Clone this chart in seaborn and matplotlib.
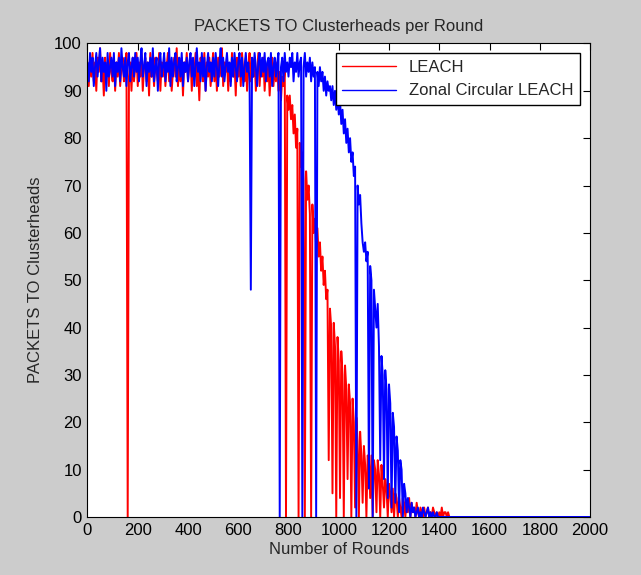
import numpy as np
import pandas as pd
import matplotlib
matplotlib.use("Agg")
import matplotlib.pyplot as plt
import seaborn as sns

# rounds sampled every 5 up to 1450, then the flat tail to 2000
rounds = list(range(0, 1455, 5)) + [2000]

# one row = 100 rounds
leach = [
    95, 91, 97, 93, 98, 92, 96, 90, 97, 94, 99, 92, 95, 89, 97, 93, 96, 91, 98, 94,
    92, 97, 90, 96, 93, 98, 91, 95, 97, 92, 94, 98, 0, 93, 96, 90, 97, 92, 95, 98,
    91, 96, 93, 98, 90, 95, 97, 92, 96, 89, 98, 93, 95, 91, 97, 94, 92, 98, 90, 96,
    93, 97, 91, 95, 98, 92, 96, 90, 94, 97, 93, 99, 91, 95, 92, 97, 89, 96, 94, 98,
    92, 95, 97, 90, 96, 93, 98, 91, 95, 88, 97, 94, 92, 98, 90, 96, 93, 97, 91, 95,
    98, 92, 96, 90, 97, 93, 95, 99, 91, 96, 94, 97, 90, 95, 92, 98, 93, 96, 89, 97,
    93, 96, 91, 98, 94, 92, 97, 90, 95, 98, 92, 96, 93, 97, 90, 94, 98, 91, 96, 93,
    97, 90, 95, 92, 96, 89, 94, 97, 91, 95, 92, 96, 90, 94, 88, 93, 91, 95, 0, 89,
    86, 89, 84, 87, 81, 85, 78, 82, 0, 79, 74, 77, 71, 0, 73, 67, 70, 64, 0, 66,
    60, 63, 57, 61, 55, 58, 52, 55, 49, 52, 46, 48, 12, 44, 40, 5, 41, 36, 0, 38,
    33, 4, 35, 30, 0, 32, 27, 8, 28, 24, 0, 25, 20, 2, 21, 16, 0, 18, 13, 3,
    15, 11, 0, 13, 12, 4, 13, 0, 12, 10, 1, 12, 9, 0, 11, 7, 2, 8, 6, 0,
    7, 5, 1, 6, 0, 5, 4, 0, 4, 2, 0, 4, 3, 0, 3, 1, 4, 0, 3, 1,
    2, 0, 3, 1, 0, 2, 1, 0, 2, 0, 1, 2, 0, 1, 0, 2, 1, 0, 1, 0,
    1, 0, 2, 0, 1, 1, 0, 1, 0, 0, 0,
    0,
]

zonal = [
    96, 92, 98, 94, 97, 91, 95, 98, 93, 96, 99, 92, 97, 94, 96, 90, 98, 93, 95, 97,
    93, 98, 91, 96, 94, 97, 92, 99, 95, 93, 97, 91, 96, 98, 92, 95, 97, 93, 98, 94,
    97, 92, 96, 99, 93, 95, 98, 91, 96, 94, 97, 93, 99, 92, 95, 97, 90, 96, 98, 93,
    95, 98, 92, 96, 94, 99, 91, 97, 93, 96, 98, 92, 95, 97, 93, 98, 91, 96, 94, 97,
    92, 96, 98, 93, 97, 91, 95, 99, 94, 96, 92, 98, 93, 97, 90, 95, 98, 94, 96, 92,
    97, 93, 98, 95, 91, 96, 99, 93, 97, 92, 95, 98, 94, 96, 91, 97, 93, 98, 95, 92,
    96, 98, 93, 97, 91, 95, 98, 94, 96, 92, 48, 97, 93, 98, 95, 91, 96, 98, 93, 97,
    94, 98, 92, 96, 97, 93, 98, 91, 95, 97, 93, 96, 98, 0, 95, 97, 92, 98, 94, 96,
    93, 97, 95, 98, 92, 96, 94, 98, 93, 96, 97, 0, 95, 98, 93, 96, 94, 97, 92, 96,
    93, 95, 0, 94, 91, 95, 92, 94, 90, 93, 89, 92, 90, 91, 88, 91, 87, 90, 86, 89,
    85, 88, 83, 86, 81, 84, 79, 82, 77, 80, 75, 77, 72, 74, 0, 70, 66, 68, 62, 58,
    56, 58, 54, 56, 6, 53, 50, 0, 48, 44, 40, 45, 36, 12, 34, 30, 8, 31, 27, 4,
    28, 24, 2, 22, 19, 3, 17, 14, 1, 12, 10, 0, 7, 5, 1, 4, 2, 0, 3, 1,
    2, 0, 1, 2, 0, 1, 0, 2, 1, 0, 1, 2, 0, 1, 0, 1, 0, 0, 1, 0,
    0, 0, 0, 0, 0, 0, 0, 0, 0, 0, 0,
    0,
]

labels = ["LEACH", "Zonal Circular LEACH"]
colors = {"LEACH": "#ff0000", "Zonal Circular LEACH": "#0000ff"}

df = pd.DataFrame({
    "round": rounds * 2,
    "packets": leach + zonal,
    "protocol": [labels[0]] * len(leach) + [labels[1]] * len(zonal),
})

sns.set_style("white")
plt.rcParams["font.family"] = ["Liberation Sans", "DejaVu Sans"]

fig = plt.figure(figsize=(6.41, 5.75), dpi=100, facecolor="#cccccc")
ax = fig.add_axes([0.1365, 0.1009, 0.784, 0.8235])

sns.lineplot(data=df, x="round", y="packets", hue="protocol", hue_order=labels,
             palette=colors, estimator=None, sort=False, lw=1.4, ax=ax)

ax.set_xlim(0, 2000)
ax.set_ylim(0, 100)
ax.set_xticks(range(0, 2001, 200))
ax.set_yticks(range(0, 101, 10))
ax.tick_params(direction="in", length=5, width=0.8, top=True, right=True,
               labelsize=12, colors="black", pad=4)
for s in ax.spines.values():
    s.set_color("black")
    s.set_linewidth(0.8)

ax.set_title("PACKETS TO Clusterheads per Round", fontsize=12, pad=9)
ax.set_xlabel("Number of Rounds", fontsize=12, labelpad=3)
ax.set_ylabel("PACKETS TO Clusterheads", fontsize=12, labelpad=8)

handles, _ = ax.get_legend_handles_labels()
leg = ax.legend(handles[-2:], labels, loc="upper right", fontsize=12,
                frameon=True, fancybox=False, edgecolor="black",
                handlelength=3.2, borderaxespad=0.6, framealpha=1)
leg.get_frame().set_linewidth(1.0)
for line in leg.get_lines():
    line.set_linewidth(1.0)

fig.savefig("out.png", dpi=100, facecolor=fig.get_facecolor())
